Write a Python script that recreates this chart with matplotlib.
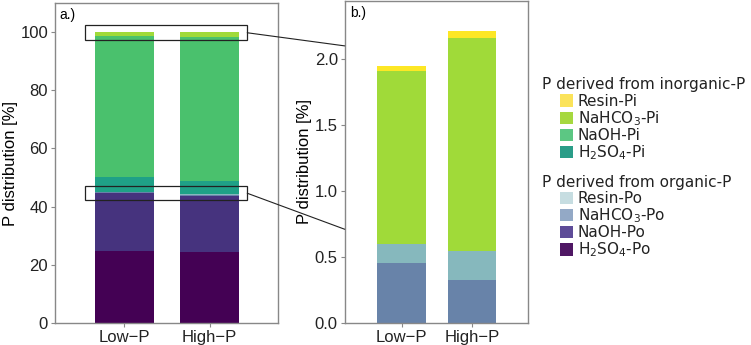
import numpy as np
import matplotlib
matplotlib.use("Agg")
import matplotlib.pyplot as plt
from matplotlib.patches import Rectangle, Patch, ConnectionPatch

# data (percent of total P)
groups = ["Low\u2212P", "High\u2212P"]
h2so4_po = [24.8, 24.4]
naoh_po = [19.8, 19.4]
nahco3_po = [0.457, 0.326]
resin_po = [0.141, 0.222]
h2so4_pi = [4.9, 4.3]
naoh_pi = [48.55, 49.69]
nahco3_pi = [1.313, 1.609]
resin_pi = [0.036, 0.057]

inorg_labels = ["Resin-Pi", "NaHCO$_3$-Pi", "NaOH-Pi", "H$_2$SO$_4$-Pi"]
org_labels = ["Resin-Po", "NaHCO$_3$-Po", "NaOH-Po", "H$_2$SO$_4$-Po"]

# bar colours
c = {
    "resin_pi": "#fde725", "nahco3_pi": "#a0da39", "naoh_pi": "#4ac16d",
    "h2so4_pi": "#1fa187", "resin_po": "#86b8bd", "nahco3_po": "#6883a9",
    "naoh_po": "#46337e", "h2so4_po": "#440154",
}
# legend swatches look a bit lighter in the original
inorg_leg_colors = ["#fbe35a", "#a6d83f", "#5cc783", "#2a9d88"]
org_leg_colors = ["#c6dde1", "#93a9c6", "#5e4c98", "#4f1764"]

plt.rcParams["font.family"] = ["Liberation Sans", "DejaVu Sans"]
plt.rcParams["mathtext.fontset"] = "dejavusans"

fig = plt.figure(figsize=(7.51, 3.45), dpi=100)
ax1 = fig.add_axes([0.0732, 0.064, 0.297, 0.927])
ax2 = fig.add_axes([0.459, 0.064, 0.244, 0.933])

x = np.arange(len(groups))
w = 0.69

# panel a: full stack
stack_a = [
    (h2so4_po, "h2so4_po"), (naoh_po, "naoh_po"), (nahco3_po, "nahco3_po"),
    (resin_po, "resin_po"), (h2so4_pi, "h2so4_pi"), (naoh_pi, "naoh_pi"),
    (nahco3_pi, "nahco3_pi"), (resin_pi, "resin_pi"),
]
bottom = np.zeros(len(groups))
for vals, key in stack_a:
    ax1.bar(x, vals, w, bottom=bottom, color=c[key], linewidth=0)
    bottom += np.array(vals)

# panel b: the small fractions only
stack_b = [
    (nahco3_po, "nahco3_po"), (resin_po, "resin_po"),
    (nahco3_pi, "nahco3_pi"), (resin_pi, "resin_pi"),
]
bottom = np.zeros(len(groups))
for vals, key in stack_b:
    ax2.bar(x, vals, w, bottom=bottom, color=c[key], linewidth=0)
    bottom += np.array(vals)

ax1.set_ylim(0, 110)
ax1.set_yticks([0, 20, 40, 60, 80, 100])
ax2.set_ylim(0, 2.44)
ax2.set_yticks([0.0, 0.5, 1.0, 1.5, 2.0])

for ax in (ax1, ax2):
    ax.set_xlim(-0.81, 1.8)
    ax.set_xticks(x)
    ax.set_xticklabels(groups)
    ax.set_ylabel("P distribution [%]", fontsize=12, labelpad=2)
    ax.tick_params(labelsize=12, length=3, color="#888888", labelcolor="#222222", pad=2)
    for s in ax.spines.values():
        s.set_color("#888888")
        s.set_linewidth(1.0)

ax1.text(0.02, 0.985, "a.)", transform=ax1.transAxes, fontsize=10, va="top", ha="left")
ax2.text(0.03, 0.985, "b.)", transform=ax2.transAxes, fontsize=10, va="top", ha="left")

# zoom boxes and connector lines
ax1.add_patch(Rectangle((-0.46, 97.3), 1.9, 5.0, fill=False, edgecolor="#222222", linewidth=0.9, zorder=5))
ax1.add_patch(Rectangle((-0.46, 42.2), 1.9, 4.8, fill=False, edgecolor="#222222", linewidth=0.9, zorder=5))
for ya, yb in [(99.8, 2.1), (44.6, 0.71)]:
    con = ConnectionPatch(xyA=(1.44, ya), coordsA=ax1.transData,
                          xyB=(0, yb), coordsB=ax2.get_yaxis_transform(),
                          color="#222222", linewidth=0.8)
    fig.add_artist(con)

# legends: group titles as plain text, entries indented below
fig.text(0.722, 0.754, "P derived from inorganic-P", family="DejaVu Sans",
         fontsize=11, color="#222222", va="center", ha="left")
fig.text(0.722, 0.472, "P derived from organic-P", family="DejaVu Sans",
         fontsize=11, color="#222222", va="center", ha="left")

leg_kw = dict(loc="upper left", frameon=False, handlelength=0.85, handleheight=0.85,
              handletextpad=0.3, labelspacing=0.02, borderpad=0, borderaxespad=0,
              prop={"family": "DejaVu Sans", "size": 11})
h_in = [Patch(facecolor=col, edgecolor="none") for col in inorg_leg_colors]
leg1 = fig.legend(h_in, inorg_labels, bbox_to_anchor=(0.746, 0.728), **leg_kw)
h_or = [Patch(facecolor=col, edgecolor="none") for col in org_leg_colors]
leg2 = fig.legend(h_or, org_labels, bbox_to_anchor=(0.746, 0.446), **leg_kw)
for leg in (leg1, leg2):
    for t in leg.get_texts():
        t.set_color("#222222")

fig.savefig("out.png", dpi=100)
